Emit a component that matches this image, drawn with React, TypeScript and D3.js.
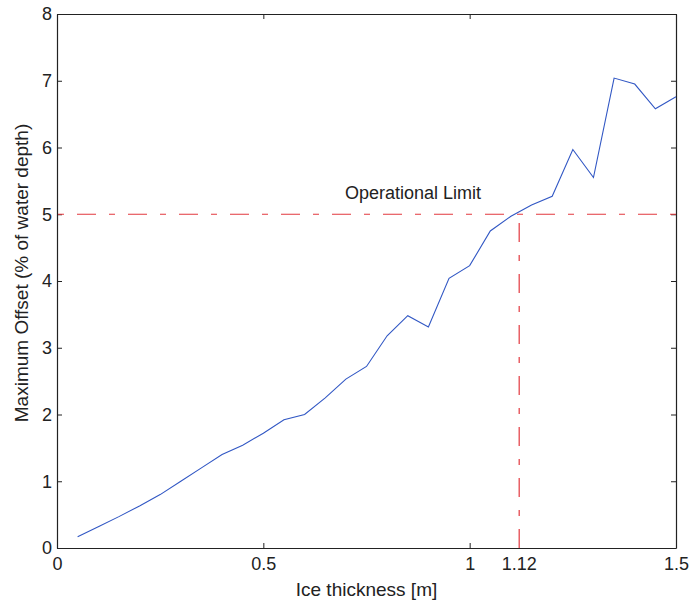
import * as d3 from "d3";
import React, { useEffect, useRef } from "react";

// ice thickness [m]
const THICKNESS = [
  0.05, 0.1, 0.15, 0.2, 0.25, 0.3, 0.35, 0.4, 0.45, 0.5, 0.55, 0.6, 0.65, 0.7, 0.75,
  0.8, 0.85, 0.9, 0.95, 1.0, 1.05, 1.1, 1.15, 1.2, 1.25, 1.3, 1.35, 1.4, 1.45, 1.5,
];
// max offset (% of water depth)
const OFFSET = [
  0.17, 0.32, 0.47, 0.63, 0.8, 1.0, 1.2, 1.4, 1.54, 1.72, 1.92, 2.0, 2.25, 2.53, 2.72,
  3.18, 3.48, 3.31, 4.04, 4.23, 4.75, 4.97, 5.14, 5.27, 5.97, 5.55, 7.04, 6.95, 6.58, 6.76,
];

const X_TICKS = [0, 0.5, 1, 1.5];
const Y_TICKS = [0, 1, 2, 3, 4, 5, 6, 7, 8];
const LIMIT = 5;
const LIMIT_THICKNESS = 1.12;

function drawChart(el: SVGSVGElement) {
  const svg = d3.select(el);
  svg.selectAll("*").remove();

  const margin = { top: 14, right: 15, bottom: 57, left: 57 },
    width = 691 - margin.left - margin.right,
    height = 605 - margin.top - margin.bottom;

  const g = svg.append("g").attr("transform", `translate(${margin.left},${margin.top})`);

  const x = d3.scaleLinear().domain([0, 1.5]).range([0, width]);
  const y = d3.scaleLinear().domain([0, 8]).range([height, 0]);

  // axes, ticks pointing inward
  const bottom = g
    .append("g")
    .attr("transform", `translate(0,${height})`)
    .call(d3.axisBottom(x).tickValues(X_TICKS).tickSize(-5).tickSizeOuter(0).tickPadding(9).tickFormat(d3.format("")));
  const left = g
    .append("g")
    .call(d3.axisLeft(y).tickValues(Y_TICKS).tickSize(-5).tickSizeOuter(0).tickPadding(5).tickFormat(d3.format("d")));
  const top = g.append("g").call(d3.axisTop(x).tickValues(X_TICKS).tickSize(-5).tickSizeOuter(0).tickFormat(() => ""));
  const right = g
    .append("g")
    .attr("transform", `translate(${width},0)`)
    .call(d3.axisRight(y).tickValues(Y_TICKS).tickSize(-5).tickSizeOuter(0).tickFormat(() => ""));

  [bottom, left, top, right].forEach(a => {
    a.select(".domain").attr("stroke", "#222").attr("stroke-width", 1.2);
    a.selectAll(".tick line").attr("stroke", "#222");
    a.selectAll("text").attr("fill", "#222").style("font-size", "18px").style("font-family", "'Liberation Sans', Arial, sans-serif");
  });

  // extra label for the limit thickness
  bottom
    .append("text")
    .attr("x", x(LIMIT_THICKNESS))
    .attr("y", 9)
    .attr("dy", "0.71em")
    .attr("text-anchor", "middle")
    .attr("fill", "#222")
    .style("font-size", "18px")
    .style("font-family", "'Liberation Sans', Arial, sans-serif")
    .text("1.12");

  // operational limit lines
  g.append("line")
    .attr("x1", x(0))
    .attr("x2", x(1.5))
    .attr("y1", y(LIMIT))
    .attr("y2", y(LIMIT))
    .attr("stroke", "#e2393f")
    .attr("stroke-width", 1.2)
    .attr("stroke-dasharray", "19,13,6,13")
    .attr("stroke-dashoffset", 31);
  g.append("line")
    .attr("x1", x(LIMIT_THICKNESS))
    .attr("x2", x(LIMIT_THICKNESS))
    .attr("y1", y(0))
    .attr("y2", y(LIMIT))
    .attr("stroke", "#e2393f")
    .attr("stroke-width", 1.2)
    .attr("stroke-dasharray", "19,13,6,13");

  g.append("text")
    .attr("x", 288)
    .attr("y", y(LIMIT) - 15)
    .attr("fill", "#222")
    .style("font-size", "18px")
    .style("font-family", "'Liberation Sans', Arial, sans-serif")
    .text("Operational Limit");

  const line = d3
    .line<number>()
    .x((d, i) => x(THICKNESS[i]))
    .y(d => y(d));
  g.append("path")
    .datum(OFFSET)
    .attr("fill", "none")
    .attr("stroke", "#3157c4")
    .attr("stroke-width", 1.1)
    .attr("d", line);

  // axis titles
  svg
    .append("text")
    .attr("x", margin.left + width / 2)
    .attr("y", 596)
    .attr("text-anchor", "middle")
    .attr("fill", "#222")
    .style("font-size", "19px")
    .style("font-family", "'Liberation Sans', Arial, sans-serif")
    .text("Ice thickness [m]");
  svg
    .append("text")
    .attr("transform", `translate(28,${margin.top + height / 2 - 8}) rotate(-90)`)
    .attr("text-anchor", "middle")
    .attr("fill", "#222")
    .style("font-size", "19px")
    .style("font-family", "'Liberation Sans', Arial, sans-serif")
    .text("Maximum Offset (% of water depth)");
}

export default function App() {
  const ref = useRef<SVGSVGElement>(null);

  useEffect(() => {
    if (ref.current) drawChart(ref.current);
  }, []);

  return (
    <div style={{ position: "absolute", left: 0, top: 0 }}>
      <svg ref={ref} width={691} height={605} style={{ display: "block", background: "#fff" }} />
    </div>
  );
}
